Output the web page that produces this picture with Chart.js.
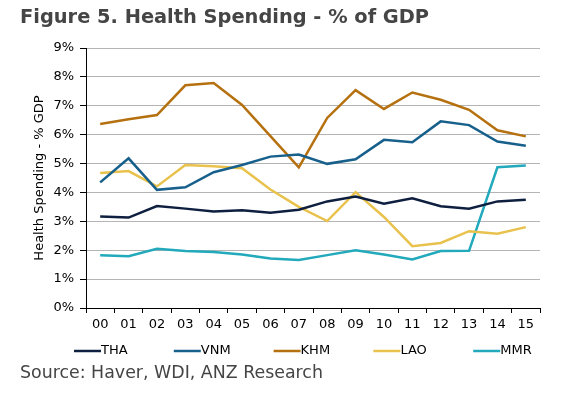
<!DOCTYPE html>
<html>
<head>
<meta charset="utf-8">
<script src="https://cdn.jsdelivr.net/npm/chart.js@4/dist/chart.umd.min.js"></script>
<style>
  html, body { margin: 0; padding: 0; background: #fff; }
  #wrap { position: relative; width: 566px; height: 394px; overflow: hidden; }
  #title { position: absolute; left: 20px; top: 5px; font-family: "DejaVu Sans", Verdana, sans-serif; font-weight: bold; font-size: 19.4px; color: #454545; white-space: nowrap; }
  #source { position: absolute; left: 20px; top: 362px; font-family: "DejaVu Sans", Verdana, sans-serif; font-size: 17.4px; color: #454545; white-space: nowrap; }
  canvas { position: absolute; left: 0; top: 0; }
</style>
</head>
<body>
<div id="wrap">
  <canvas id="c" width="566" height="394"></canvas>
  <div id="title">Figure 5. Health Spending - % of GDP</div>
  <div id="source">Source: Haver, WDI, ANZ Research</div>
</div>
<script>
const years = ["00","01","02","03","04","05","06","07","08","09","10","11","12","13","14","15"];
const tha = [3.17,3.13,3.53,3.44,3.34,3.38,3.30,3.40,3.69,3.86,3.61,3.80,3.52,3.44,3.69,3.75];
const vnm = [4.35,5.18,4.09,4.18,4.70,4.95,5.24,5.31,4.99,5.15,5.82,5.74,6.46,6.33,5.76,5.62];
const khm = [6.37,6.53,6.68,7.71,7.79,7.03,5.95,4.87,6.58,7.54,6.89,7.46,7.21,6.86,6.15,5.94];
const lao = [4.67,4.74,4.21,4.95,4.91,4.84,4.10,3.50,3.01,4.01,3.15,2.14,2.25,2.66,2.57,2.80];
const mmr = [1.83,1.79,2.05,1.97,1.94,1.85,1.71,1.66,1.83,2.00,1.85,1.68,1.97,1.98,4.87,4.93];
const seriesNames = ["THA","VNM","KHM","LAO","MMR"];
const seriesColors = ["#0e1f3f","#17608c","#b5710f","#e8c24c","#22a9bb"];
const yTicks = [0,1,2,3,4,5,6,7,8,9];

const FONT = '"DejaVu Sans", Verdana, sans-serif';
const data = [tha, vnm, khm, lao, mmr];

const legendPlugin = {
  id: 'customLegend',
  afterDraw(chart) {
    const ctx = chart.ctx;
    ctx.save();
    chart.data.datasets.forEach((ds, i) => {
      const x0 = 74 + i * 99.8;
      const y = 351;
      ctx.strokeStyle = ds.borderColor;
      ctx.lineWidth = 2.5;
      ctx.beginPath();
      ctx.moveTo(x0, y);
      ctx.lineTo(x0 + 27, y);
      ctx.stroke();
      ctx.fillStyle = '#000';
      ctx.font = '13px ' + FONT;
      ctx.textBaseline = 'middle';
      ctx.textAlign = 'left';
      ctx.fillText(ds.label, x0 + 27, y);
    });
    ctx.restore();
  }
};

new Chart(document.getElementById('c'), {
  type: 'line',
  data: {
    labels: years,
    datasets: data.map((d, i) => ({
      label: seriesNames[i],
      data: d,
      borderColor: seriesColors[i],
      backgroundColor: seriesColors[i],
      borderWidth: 2.5,
      pointRadius: 0,
      tension: 0,
      fill: false
    }))
  },
  options: {
    responsive: false,
    animation: false,
    devicePixelRatio: 1,
    layout: { padding: { left: 0, top: 48, right: 26, bottom: 56 } },
    plugins: {
      legend: { display: false },
      title: { display: false },
      tooltip: { enabled: false }
    },
    scales: {
      x: {
        offset: true,
        grid: { offset: true, drawOnChartArea: false, drawTicks: true, tickLength: 5, color: '#000', tickColor: '#000' },
        border: { display: true, color: '#000', width: 1 },
        ticks: { color: '#000', font: { family: FONT, size: 13 }, padding: 4, maxRotation: 0, autoSkip: false },
        afterFit(scale) { scale.height = 30; }
      },
      y: {
        min: 0, max: 9,
        afterBuildTicks(scale) { scale.ticks = yTicks.map(v => ({ value: v })); },
        grid: { color: '#b4b4b4', borderDash: [1, 1], tickLength: 6, tickColor: '#000', tickBorderDash: [], lineWidth: 1 },
        border: { display: true, color: '#000', width: 1 },
        ticks: { color: '#000', font: { family: FONT, size: 13 }, padding: 6, callback: v => v + '%' },
        title: { display: true, text: 'Health Spending - % GDP', color: '#000', font: { family: FONT, size: 13 }, padding: { top: 32, bottom: 0 } },
        afterFit(scale) { scale.width = 86; }
      }
    }
  },
  plugins: [legendPlugin]
});
</script>
</body>
</html>
